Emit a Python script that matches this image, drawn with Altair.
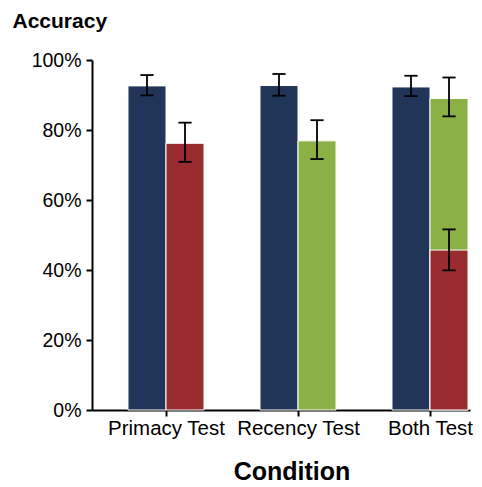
import altair as alt
import pandas as pd

# ---- data ----
conditions = ["Primacy Test", "Recency Test", "Both Test"]
bar_condition = ["Primacy Test", "Primacy Test", "Recency Test", "Recency Test",
                 "Both Test", "Both Test", "Both Test"]
bar_series = ["Baseline", "Primacy", "Baseline", "Recency",
              "Baseline", "Recency", "Primacy"]
bar_side = [0, 1, 0, 1, 0, 1, 1]
accuracy = [0.926, 0.762, 0.927, 0.769, 0.923, 0.890, 0.457]
err_low = [0.899, 0.709, 0.898, 0.717, 0.897, 0.839, 0.399]
err_high = [0.957, 0.821, 0.960, 0.828, 0.955, 0.950, 0.516]

series_domain = ["Baseline", "Primacy", "Recency"]
series_colors = ["#213559", "#9A2C2F", "#8BB046"]

df = pd.DataFrame({
    "condition": bar_condition,
    "series": bar_series,
    "side": bar_side,
    "value": accuracy,
    "lo": err_low,
    "hi": err_high,
})
df["pos"] = [conditions.index(c) + 1 for c in df["condition"]]

BAR_W = 0.288
CAP = 0.05
FONT = "Liberation Sans"

xs = alt.Scale(domain=[0.4394, 3.3030], nice=False, zero=False)
ys = alt.Scale(domain=[0, 1], nice=False)

label_list = "[" + ",".join("'" + c + "'" for c in conditions) + "]"

x_axis = alt.Axis(
    values=[1, 2, 3], labelExpr=label_list + "[datum.value - 1]",
    grid=False, domainColor="black", domainWidth=2, tickColor="black",
    tickWidth=2, tickSize=6, labelFontSize=20.5, labelColor="black",
    labelPadding=2, labelFont=FONT, labelOverlap=False, labelBound=False,
    title="Condition", titleFont=FONT, titleFontSize=25, titleFontWeight="bold",
    titleColor="black", titleX=199.5, titleY=69, titleBaseline="alphabetic",
    titleAlign="center", titleAnchor=None,
)
y_axis = alt.Axis(
    values=[0, 0.2, 0.4, 0.6, 0.8, 1.0], format=".0%",
    grid=False, domainColor="black", domainWidth=2, tickColor="black",
    tickWidth=2, tickSize=6, labelFontSize=19.5, labelColor="black",
    labelPadding=5, labelFont=FONT,
    title="Accuracy", titleFont=FONT, titleFontSize=21, titleFontWeight="bold",
    titleColor="black", titleAngle=0, titleAlign="left", titleBaseline="alphabetic",
    titleX=-80, titleY=-33,
)

base = alt.Chart(df).transform_calculate(
    x0=f"datum.pos + (datum.side == 0 ? -{BAR_W} : 0)",
    x1=f"datum.pos + (datum.side == 0 ? 0 : {BAR_W})",
    xc=f"datum.pos + (datum.side == 0 ? -1 : 1) * {BAR_W / 2}",
    c0=f"datum.xc - {CAP}",
    c1=f"datum.xc + {CAP}",
)

bars = base.mark_bar(stroke="white", strokeWidth=1).encode(
    x=alt.X("x0:Q", scale=xs, axis=x_axis),
    x2="x1:Q",
    y=alt.Y("value:Q", scale=ys, axis=y_axis, stack=None),
    y2=alt.datum(0),
    color=alt.Color("series:N", scale=alt.Scale(domain=series_domain, range=series_colors),
                    legend=None),
)

stems = base.mark_rule(color="black", strokeWidth=1.8).encode(
    x=alt.X("xc:Q", scale=xs, axis=x_axis),
    y=alt.Y("lo:Q", scale=ys, axis=y_axis),
    y2="hi:Q",
)
caps_lo = base.mark_rule(color="black", strokeWidth=1.8).encode(
    x=alt.X("c0:Q", scale=xs, axis=x_axis),
    x2="c1:Q",
    y=alt.Y("lo:Q", scale=ys, axis=y_axis),
)
caps_hi = base.mark_rule(color="black", strokeWidth=1.8).encode(
    x=alt.X("c0:Q", scale=xs, axis=x_axis),
    x2="c1:Q",
    y=alt.Y("hi:Q", scale=ys, axis=y_axis),
)

chart = alt.layer(bars, stems, caps_lo, caps_hi).properties(
    width=378, height=350,
    autosize=alt.AutoSizeParams(type="none"),
    padding={"left": 84, "top": 52, "right": 4, "bottom": 74},
    background="white",
).configure_view(stroke=None)

chart.save("out.html", embed_options={"renderer": "svg", "actions": False})
